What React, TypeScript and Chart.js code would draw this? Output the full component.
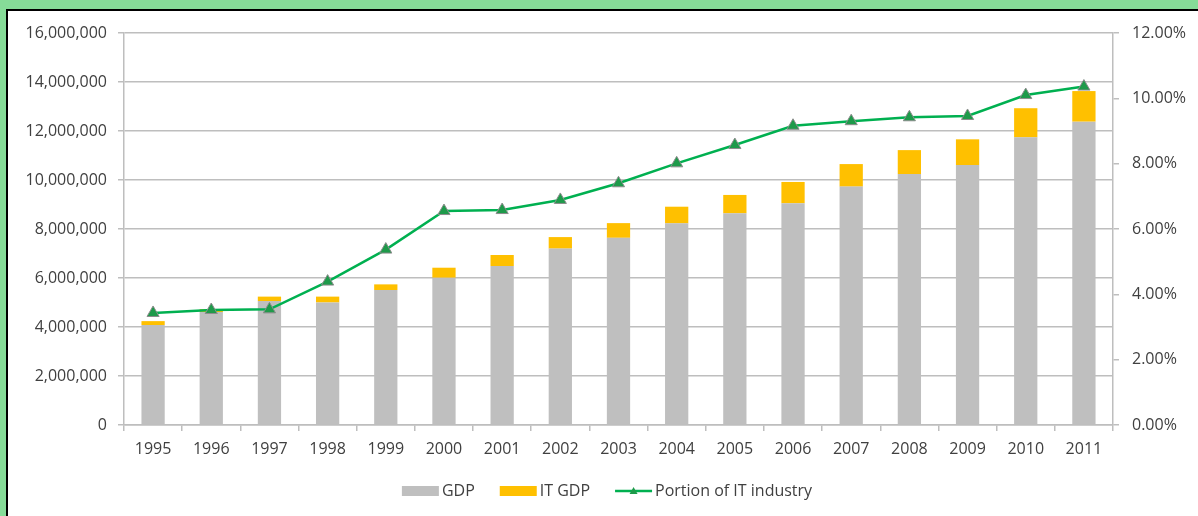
import React, { useEffect, useRef } from "react";
import { Chart, registerables } from "chart.js";

Chart.register(...registerables);

const years = ["1995","1996","1997","1998","1999","2000","2001","2002","2003","2004","2005","2006","2007","2008","2009","2010","2011"];
const gdp = [4080000,4610000,5060000,5000000,5510000,6010000,6490000,7200000,7640000,8230000,8640000,9050000,9730000,10240000,10610000,11740000,12380000];
const itGdp = [160000,120000,180000,240000,230000,410000,450000,470000,600000,680000,750000,870000,920000,980000,1050000,1190000,1250000];
const itPortion = [3.43,3.52,3.54,4.39,5.37,6.55,6.58,6.89,7.40,8.01,8.57,9.16,9.30,9.42,9.46,10.10,10.36];

const FONT = "'Open Sans', sans-serif";
const TEXT = "#404040";
const GRID = "#BEBEBE";
const GRAY = "#BFBFBF";
const GOLD = "#FFC000";
const GREEN = "#00B050";

const legendPlugin = {
  id: "customLegend",
  afterDraw(chart: any) {
    const ctx = chart.ctx;
    ctx.save();
    ctx.font = `16px ${FONT}`;
    ctx.textBaseline = "middle";
    const y = 491;
    const items = chart.data.datasets.map((ds: any) => ({
      label: ds.label,
      type: ds.type || "bar",
      color: ds.type === "line" ? ds.borderColor : ds.backgroundColor,
      pointColor: ds.pointBackgroundColor,
      pointBorder: ds.pointBorderColor,
    }));
    const boxW = 37;
    const gapText = 3;
    const itemGap = 25;
    let total = 0;
    items.forEach((it: any, i: number) => {
      total += boxW + gapText + ctx.measureText(it.label).width;
      if (i < items.length - 1) total += itemGap;
    });
    let x = chart.width / 2 + 8 - total / 2;
    items.forEach((it: any) => {
      if (it.type === "line") {
        ctx.strokeStyle = it.color;
        ctx.lineWidth = 2.5;
        ctx.beginPath();
        ctx.moveTo(x, y);
        ctx.lineTo(x + boxW, y);
        ctx.stroke();
        const cx = x + boxW / 2;
        ctx.fillStyle = it.pointColor;
        ctx.beginPath();
        ctx.moveTo(cx, y - 4);
        ctx.lineTo(cx + 4, y + 3);
        ctx.lineTo(cx - 4, y + 3);
        ctx.closePath();
        ctx.fill();
      } else {
        ctx.fillStyle = it.color;
        ctx.fillRect(x, y - 5, boxW, 10);
      }
      x += boxW + gapText;
      ctx.fillStyle = TEXT;
      ctx.textAlign = "left";
      ctx.fillText(it.label, x, y);
      x += ctx.measureText(it.label).width + itemGap;
    });
    ctx.restore();
  },
};

export default function App() {
  const ref = useRef<HTMLCanvasElement>(null);
  useEffect(() => {
    if (!ref.current) return;
    const chart = new Chart(ref.current, {
      type: "bar",
      data: {
        labels: years,
        datasets: [
          { type: "bar", label: "GDP", data: gdp, backgroundColor: GRAY, yAxisID: "y", order: 1, barPercentage: 0.4, categoryPercentage: 1 },
          { type: "bar", label: "IT GDP", data: itGdp, backgroundColor: GOLD, yAxisID: "y", order: 1, barPercentage: 0.4, categoryPercentage: 1 },
          {
            type: "line", label: "Portion of IT industry", data: itPortion, yAxisID: "y1", order: 0,
            borderColor: GREEN, borderWidth: 2.5, tension: 0,
            pointStyle: "triangle", pointRadius: 7, pointBackgroundColor: "#1E9A4A",
            pointBorderColor: "#8C8C8C", pointBorderWidth: 1,
          } as any,
        ],
      },
      options: {
        responsive: false,
        animation: false,
        layout: { padding: { top: 33, left: 0, right: 0, bottom: 0 } },
        plugins: { legend: { display: false }, tooltip: { enabled: false } },
        scales: {
          x: {
            stacked: true,
            grid: { drawOnChartArea: false, drawTicks: true, tickLength: 6, color: GRID, lineWidth: 1.5, offset: true },
            border: { color: GRID, width: 1.5 },
            ticks: { color: TEXT, font: { family: FONT, size: 16 }, padding: 9, maxRotation: 0 },
            afterFit: (s: any) => { s.height = 91; },
          },
          y: {
            stacked: true,
            position: "left",
            min: 0,
            max: 16000000,
            grid: { color: GRID, lineWidth: 1.5, tickLength: 6 },
            border: { color: GRID, width: 1.5 },
            ticks: {
              stepSize: 2000000,
              color: TEXT,
              font: { family: FONT, size: 16 },
              padding: 11,
              callback: (v: any) => Number(v).toLocaleString("en-US"),
            },
            afterFit: (s: any) => { s.width = 124; },
          },
          y1: {
            position: "right",
            min: 0,
            max: 12,
            grid: { drawOnChartArea: false, color: GRID, lineWidth: 1.5, tickLength: 6 },
            border: { color: GRID, width: 1.5 },
            ticks: {
              stepSize: 2,
              color: TEXT,
              font: { family: FONT, size: 16 },
              padding: 13,
              callback: (v: any) => Number(v).toFixed(2) + "%",
            },
            afterFit: (s: any) => { s.width = 85; },
          },
        },
      },
      plugins: [legendPlugin],
    });
    return () => chart.destroy();
  }, []);

  return (
    <div style={{ position: "fixed", left: 0, top: 0, width: 1198, height: 516, background: "#86DC98", overflow: "hidden" }}>
      <div style={{ position: "absolute", left: 6, top: 9, width: 1300, height: 600, border: "2px solid #000", background: "#fff" }} />
      <canvas ref={ref} width={1198} height={516} style={{ position: "absolute", left: 0, top: 0, width: 1198, height: 516 }} />
    </div>
  );
}
